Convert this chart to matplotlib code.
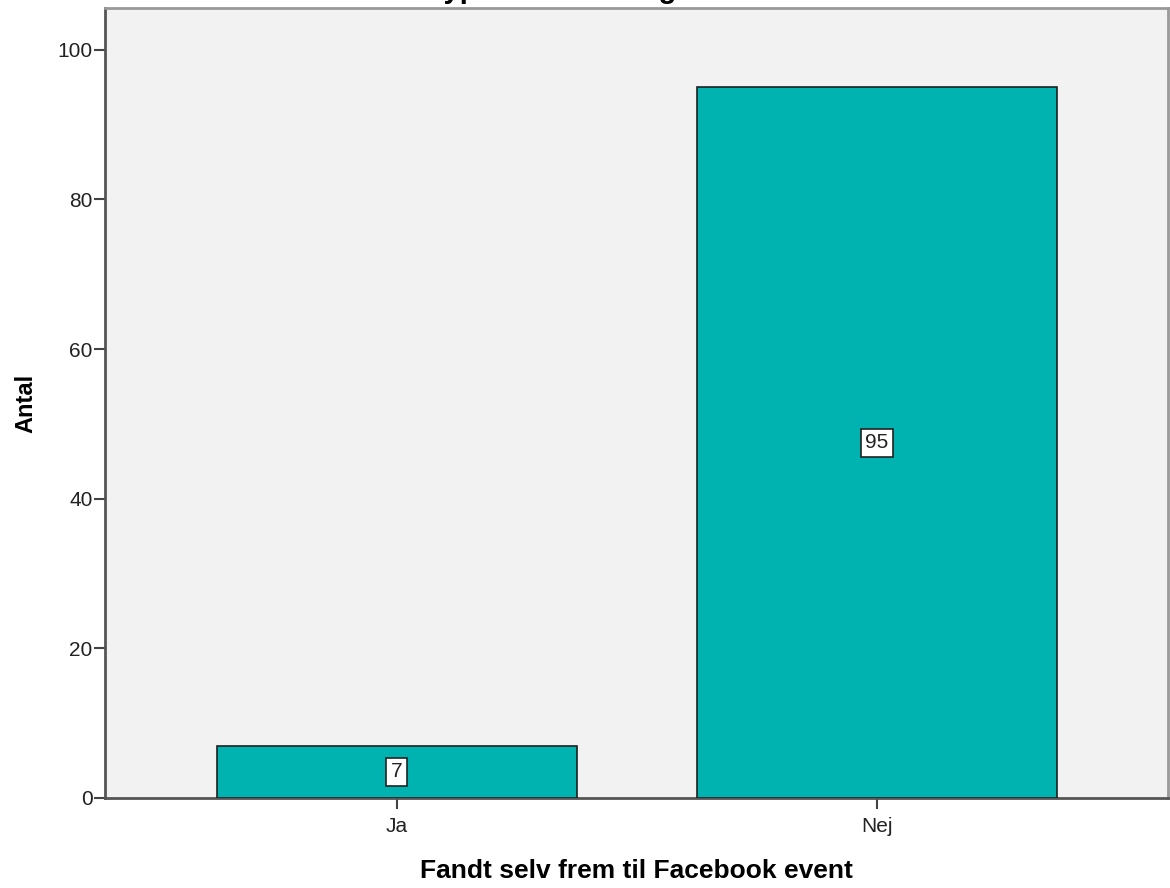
import matplotlib.pyplot as plt
import numpy as np

# Data
kategorier = ["Ja", "Nej"]
antal = [7, 95]
titel = "Hvilken type annoncering har du set?"
xlabel = "Fandt selv frem til Facebook event"
ylabel = "Antal"

plt.rcParams['font.family'] = ['Liberation Sans', 'DejaVu Sans']

fig = plt.figure(figsize=(11.7, 8.88), dpi=100)
ax = fig.add_axes([0.0897, 0.1014, 0.9083, 0.8896])
ax.set_facecolor('#F2F2F2')

x = np.arange(len(kategorier))
ax.bar(x, antal, width=0.75, color='#00B2B0', edgecolor='#1f1f1f', linewidth=1.2, zorder=3)

for xi, v in zip(x, antal):
    ax.text(xi, v / 2, str(v), ha='center', va='center', fontsize=15, color='#222222', zorder=4,
            bbox=dict(boxstyle='square,pad=0.22', facecolor='white', edgecolor='#222222', linewidth=1.2))

ax.set_xlim(-0.608, 1.606)
ax.set_ylim(0, 105.6)
ax.set_xticks(x)
ax.set_xticklabels(kategorier)
ax.set_yticks([0, 20, 40, 60, 80, 100])
ax.tick_params(axis='both', labelsize=15, length=8, width=1.5, direction='out')
ax.tick_params(axis='y', colors='#444444', labelcolor='#222222', pad=1)
ax.tick_params(axis='x', colors='#444444', labelcolor='#222222', pad=6)

for side in ['left', 'bottom']:
    ax.spines[side].set_color('#555555')
    ax.spines[side].set_linewidth(2)
for side in ['top', 'right']:
    ax.spines[side].set_color('#999999')
    ax.spines[side].set_linewidth(2)

ax.set_ylabel(ylabel, fontsize=17, fontweight='bold', labelpad=14)
ax.set_xlabel(xlabel, fontsize=19, fontweight='bold', labelpad=16)

fig.text(0.497, 1.002, titel, ha='center', va='baseline', fontsize=21, fontweight='bold')

fig.savefig('out.png', dpi=100)
